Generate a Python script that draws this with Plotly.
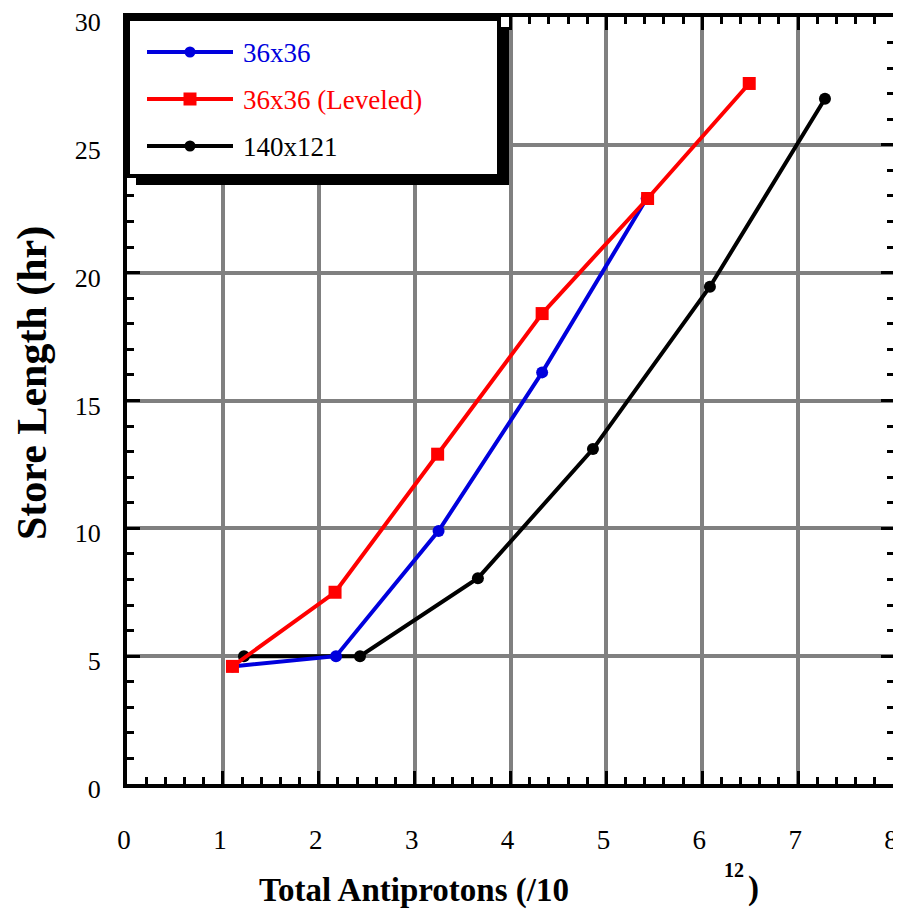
import plotly.graph_objects as go

# ---- data ----
x_3636 = [1.10, 2.18, 3.25, 4.33, 5.42]
y_3636 = [4.6, 5.0, 9.9, 16.1, 22.9]

x_level = [1.10, 2.17, 3.24, 4.33, 5.43, 6.49]
y_level = [4.6, 7.5, 12.9, 18.4, 22.9, 27.4]

x_140 = [1.22, 2.43, 3.66, 4.86, 6.08, 7.28]
y_140 = [5.0, 5.0, 8.05, 13.1, 19.45, 26.8]

names = ["36x36", "36x36 (Leveled)", "140x121"]
colors = ["#0000dd", "#ff0000", "#000000"]
symbols = ["circle", "square", "circle"]

x_ticks = [0, 1, 2, 3, 4, 5, 6, 7, 8]
y_ticks = [0, 5, 10, 15, 20, 25, 30]

FONT = "Liberation Serif"

# page geometry: the html body adds an 8px margin, so the figure is 8px smaller
OFF = 8
PW, PH = 901, 914
L, R, T, B = 127, 894, 17, 784          # plot area in page pixels
W, H = PW - OFF, PH - OFF               # figure size


def fx(px):
    return (px - L) / (R - L)


def fy(py):
    return (B - py) / (B - T)


fig = go.Figure()

# draw order: black, blue, red
fig.add_trace(go.Scatter(x=x_140, y=y_140, mode="lines+markers", name=names[2],
                         line=dict(color=colors[2], width=4),
                         marker=dict(symbol=symbols[2], size=12, color=colors[2]),
                         showlegend=False))
fig.add_trace(go.Scatter(x=x_3636, y=y_3636, mode="lines+markers", name=names[0],
                         line=dict(color=colors[0], width=4),
                         marker=dict(symbol=symbols[0], size=12, color=colors[0]),
                         showlegend=False))
fig.add_trace(go.Scatter(x=x_level, y=y_level, mode="lines+markers", name=names[1],
                         line=dict(color=colors[1], width=4),
                         marker=dict(symbol=symbols[1], size=13, color=colors[1]),
                         showlegend=False))

shapes = []
annotations = []

# legend box with drop shadow
shapes.append(dict(type="rect", xref="paper", yref="paper", layer="above",
                   x0=fx(136), x1=fx(509), y0=fy(185), y1=fy(27),
                   fillcolor="black", line=dict(width=0)))
shapes.append(dict(type="rect", xref="paper", yref="paper", layer="above",
                   x0=fx(128), x1=fx(499), y0=fy(176), y1=fy(19),
                   fillcolor="white", line=dict(color="black", width=4)))

rows = [52, 99, 146]
for i, ry in zip([0, 1, 2], rows):
    shapes.append(dict(type="line", xref="paper", yref="paper", layer="above",
                       x0=fx(147), x1=fx(233), y0=fy(ry), y1=fy(ry),
                       line=dict(color=colors[i], width=4)))
    if symbols[i] == "circle":
        r = 5.5
        shapes.append(dict(type="circle", xref="paper", yref="paper", layer="above",
                           x0=fx(190 - r), x1=fx(190 + r), y0=fy(ry + r), y1=fy(ry - r),
                           fillcolor=colors[i], line=dict(width=0)))
    else:
        r = 6.5
        shapes.append(dict(type="rect", xref="paper", yref="paper", layer="above",
                           x0=fx(190 - r), x1=fx(190 + r), y0=fy(ry + r), y1=fy(ry - r),
                           fillcolor=colors[i], line=dict(width=0)))
    annotations.append(dict(text=names[i], xref="paper", yref="paper",
                            x=fx(241), y=fy(ry + 1), xanchor="left", yanchor="middle",
                            showarrow=False, font=dict(family=FONT, size=27, color=colors[i])))

# axis titles
annotations.append(dict(text="<b>Total Antiprotons (/10</b>", xref="paper", yref="paper",
                        x=fx(414), y=fy(890), xanchor="center", yanchor="middle",
                        showarrow=False, font=dict(family=FONT, size=33, color="black")))
annotations.append(dict(text="<b>12</b>", xref="paper", yref="paper",
                        x=fx(734), y=fy(870), xanchor="center", yanchor="middle",
                        showarrow=False, font=dict(family=FONT, size=20, color="black")))
annotations.append(dict(text="<b>)</b>", xref="paper", yref="paper",
                        x=fx(753), y=fy(888), xanchor="center", yanchor="middle",
                        showarrow=False, font=dict(family=FONT, size=33, color="black")))
annotations.append(dict(text="<b>Store Length (hr)</b>", xref="paper", yref="paper",
                        x=fx(32), y=fy(383), xanchor="center", yanchor="middle", textangle=-90,
                        showarrow=False, font=dict(family=FONT, size=42, color="black")))

axis_common = dict(
    showgrid=True, gridcolor="#808080", gridwidth=4,
    showline=True, linecolor="black", linewidth=4, mirror="ticks",
    ticks="inside", ticklen=13, tickwidth=3, tickcolor="black",
    zeroline=False, automargin=False, ticklabeloverflow="allow",
)

fig.update_layout(
    width=W, height=H,
    margin=dict(l=L - OFF, r=W - (R - OFF), t=T - OFF, b=H - (B - OFF), autoexpand=False),
    paper_bgcolor="white", plot_bgcolor="white",
    showlegend=False,
    shapes=shapes, annotations=annotations,
    xaxis=dict(range=[0, 8], tickvals=x_ticks, ticktext=[str(v) for v in x_ticks],
               ticklabelstandoff=29, ticklabelshift=-3,
               tickfont=dict(family=FONT, size=27, color="black"),
               minor=dict(dtick=0.2, ticks="inside", ticklen=7, tickwidth=3,
                          tickcolor="black", showgrid=False),
               **axis_common),
    yaxis=dict(range=[0, 30], tickvals=y_ticks, ticktext=[str(v) for v in y_ticks],
               ticklabelstandoff=17, ticklabelshift=5,
               tickfont=dict(family=FONT, size=26, color="black"),
               minor=dict(dtick=1, ticks="inside", ticklen=7, tickwidth=3,
                          tickcolor="black", showgrid=False),
               **axis_common),
)

fig.write_html("out.html")
